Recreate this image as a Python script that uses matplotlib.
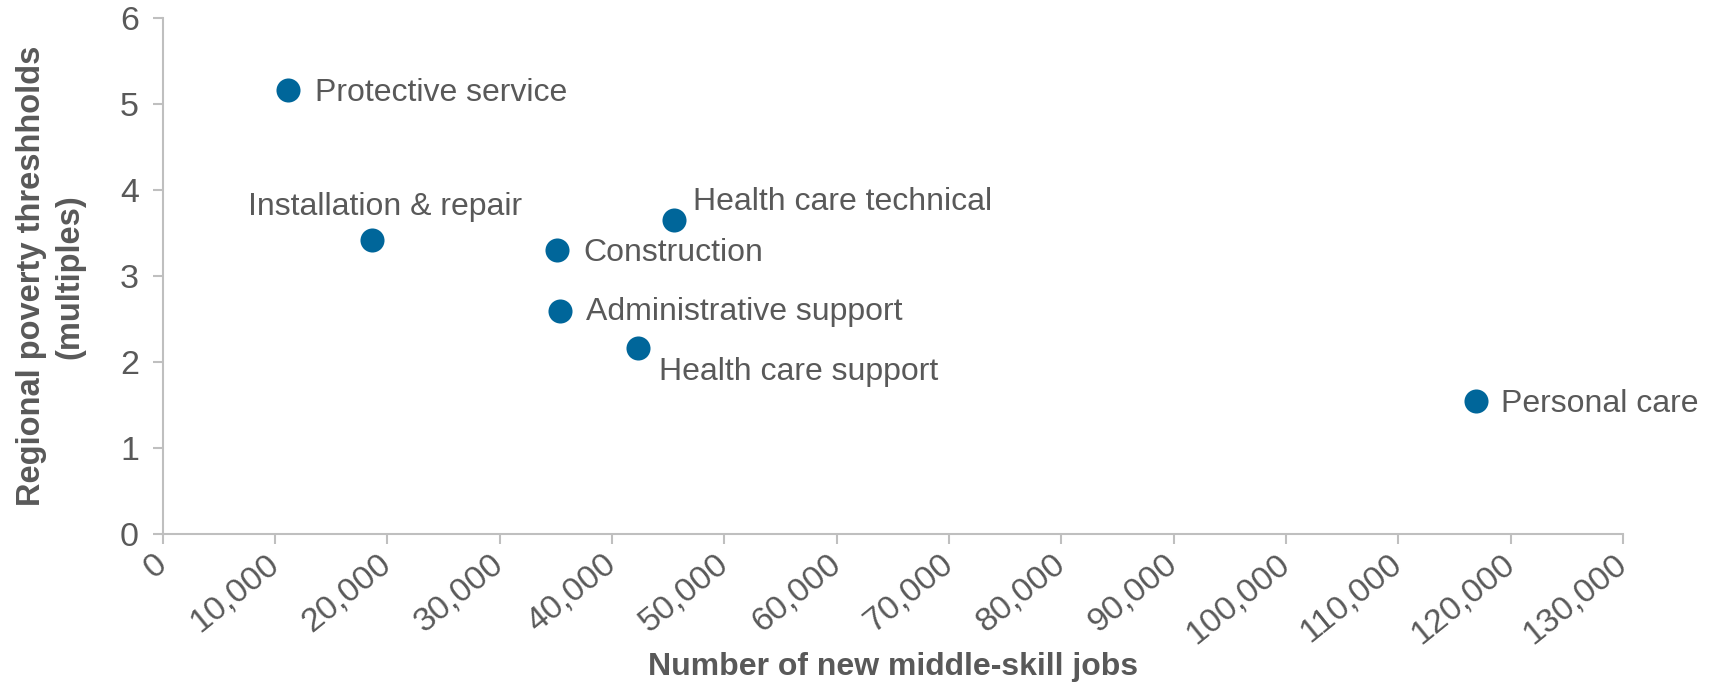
import matplotlib
matplotlib.use("Agg")
import matplotlib.pyplot as plt
from matplotlib.ticker import FuncFormatter

# occupation groups, jobs vs poverty-threshold multiples
occupations = [
    "Protective service",
    "Installation & repair",
    "Construction",
    "Health care technical",
    "Administrative support",
    "Health care support",
    "Personal care",
]
new_jobs = [11200, 18600, 35100, 45500, 35400, 42300, 116900]
poverty_multiples = [5.17, 3.42, 3.30, 3.65, 2.59, 2.16, 1.55]

# label placement (offset in pixels, alignment)
LABEL_POS = {
    "Protective service": ((27, -3), "left", "center"),
    "Installation & repair": ((13, 33), "center", "center"),
    "Construction": ((26, -3), "left", "center"),
    "Health care technical": ((19, 18), "left", "center"),
    "Administrative support": ((26, -1), "left", "center"),
    "Health care support": ((21, -24), "left", "center"),
    "Personal care": ((25, -3), "left", "center"),
}

TEXT = "#595959"
AXIS = "#BFBFBF"
DOT = "#00669A"

plt.rcParams["font.family"] = ["Liberation Sans", "DejaVu Sans"]

fig = plt.figure(figsize=(17.12, 6.82), dpi=100)
ax = fig.add_axes([0.095, 0.217, 0.853, 0.756])

ax.scatter(new_jobs, poverty_multiples, s=300, color=DOT, zorder=3, linewidths=0)

for name, x, y in zip(occupations, new_jobs, poverty_multiples):
    (dx, dy), ha, va = LABEL_POS[name]
    ax.annotate(name, (x, y), xytext=(dx, dy), textcoords="offset pixels",
                ha=ha, va=va, fontsize=23, color=TEXT)

ax.set_xlim(0, 130000)
ax.set_ylim(0, 6)
ax.set_xticks(range(0, 130001, 10000))
ax.set_yticks(range(0, 7))
ax.xaxis.set_major_formatter(FuncFormatter(lambda v, p: f"{int(v):,}"))

for side in ["top", "right"]:
    ax.spines[side].set_visible(False)
for side in ["left", "bottom"]:
    ax.spines[side].set_color(AXIS)
    ax.spines[side].set_linewidth(1.5)

ax.tick_params(axis="both", colors=AXIS, width=1.5, length=7, labelcolor=TEXT, labelsize=24.5)
ax.tick_params(axis="y", pad=10)
ax.tick_params(axis="x", pad=12)
for lbl in ax.get_xticklabels():
    lbl.set_rotation(39)
    lbl.set_ha("right")
    lbl.set_va("center")
    lbl.set_rotation_mode("anchor")

ax.set_xlabel("Number of new middle-skill jobs", fontsize=23, fontweight="bold", color=TEXT)
ax.set_ylabel("Regional poverty threshholds\n(multiples)", fontsize=23.5, fontweight="bold",
              color=TEXT, linespacing=1.3)
ax.xaxis.set_label_coords(0.5, -0.228)
ax.yaxis.set_label_coords(-0.053, 0.5)

fig.savefig("out.png", dpi=100)
